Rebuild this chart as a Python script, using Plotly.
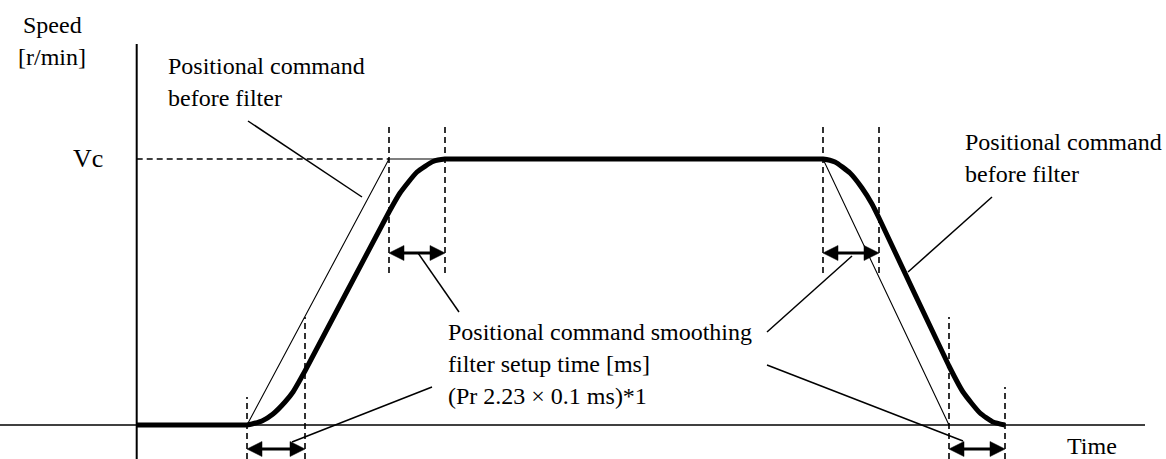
import plotly.graph_objects as go

# ---- Diagram data (time units along x, speed units above the zero line) ----
VC = 266                       # commanded speed level Vc
T_AXIS = 136.7                 # time origin (vertical axis position)

# Positional command before filter (trapezoid)
cmd_t = [247, 389, 823, 949]
cmd_v = [0, VC, VC, 0]

# Positional command after smoothing filter
filt_t = [137, 200, 237, 247, 262, 273, 285, 293, 300, 305, 389, 400, 417, 433, 445, 457,
          600, 811, 823, 835, 850, 862, 872, 879, 949, 963, 980, 993, 1005]
filt_v = [0, 0, 0, 0, 4, 11, 23, 33, 45, 54, 213, 232, 253, 263.5, 266, 266,
          266, 266, 266, 263, 252, 237, 221, 207, 59, 33, 12, 3, 0]

# Dashed guide lines: (time, speed bottom, speed top)
guide_t = [247, 305, 389, 445, 823, 879, 949, 1005]
guide_lo = [-34, -34, 152, 152, 152, 152, -34, -34]
guide_hi = [28, 108, 299, 299, 299, 299, 108, 38]

# Double arrows showing filter setup time: (speed level, start, end)
arrow_v = [-24, 172, 172, -24]
arrow_t0 = [247, 389, 823, 949]
arrow_t1 = [305, 445, 879, 1005]

# Leader lines: (t0, v0, t1, v1)
leaders = [
    (248, 304, 362, 228),
    (418, 172, 459, 113),
    (432, 38, 292, -17),
    (767, 93, 852, 169),
    (767, 60, 963, -16),
    (992, 228, 908, 153),
]

# Text labels: (text, t, v, size)
labels = [
    ("Speed", 22, 425 - 25.2, 24),
    ("[r/min]", 17, 425 - 57, 24),
    ("Positional command", 167, 425 - 66, 24),
    ("before filter", 167, 425 - 98, 24),
    ("Vc", 72, 425 - 158, 26),
    ("Positional command smoothing", 447, 425 - 332, 24),
    ("filter setup time [ms]", 447, 425 - 363.6, 24),
    ("(Pr 2.23 \u00d7 0.1 ms)*1", 447, 425 - 395.6, 24),
    ("Positional command", 964, 425 - 142, 24),
    ("before filter", 964, 425 - 173.6, 24),
    ("Time", 1066, 425 - 446, 24),
]

X_END = 1145                   # end of time axis line
V_TOP = 381                    # top of speed axis line
V_MIN, V_MAX = -34, 425

BLACK = "#000000"
fig = go.Figure()


def seg(xs, ys, width, dash=None):
    fig.add_trace(go.Scatter(
        x=xs, y=ys, mode="lines", hoverinfo="skip",
        line=dict(color=BLACK, width=width, dash=dash)))


# axes
seg([T_AXIS, T_AXIS], [V_MIN, V_TOP], 2)
seg([0, X_END], [0, 0], 1.6)

# Vc dashed line
seg([T_AXIS, cmd_t[1]], [VC, VC], 1.6, "6px,4px")

# guide lines
for t, lo, hi in zip(guide_t, guide_lo, guide_hi):
    seg([t, t], [lo, hi], 1.6, "6px,4px")

# command line (thin)
seg(cmd_t, cmd_v, 1.1)

# leaders
for t0, v0, t1, v1 in leaders:
    seg([t0, t1], [v0, v1], 1.5)

# filtered output (thick)
fig.add_trace(go.Scatter(
    x=filt_t, y=filt_v, mode="lines", hoverinfo="skip",
    line=dict(color=BLACK, width=5, shape="spline", smoothing=0.5)))

# double arrows
HEAD_L, HEAD_H = 15, 15
for v, a, b in zip(arrow_v, arrow_t0, arrow_t1):
    seg([a + HEAD_L - 2, b - HEAD_L + 2], [v, v], 3)
    for tip, d in ((a, 1), (b, -1)):
        fig.add_trace(go.Scatter(
            x=[tip, tip + d * HEAD_L, tip + d * HEAD_L, tip],
            y=[v, v + HEAD_H / 2, v - HEAD_H / 2, v],
            mode="lines", fill="toself", fillcolor=BLACK,
            line=dict(color=BLACK, width=0.5), hoverinfo="skip"))

for text, t, v, size in labels:
    fig.add_annotation(
        x=t, y=v, xref="x", yref="y", text=text, showarrow=False,
        xanchor="left", yanchor="middle", borderpad=0,
        font=dict(family="Liberation Serif, Times New Roman, serif",
                  size=size, color=BLACK))

fig.update_layout(
    width=1166, height=459,
    margin=dict(l=0, r=0, t=0, b=0),
    paper_bgcolor="white", plot_bgcolor="white",
    showlegend=False,
    xaxis=dict(range=[0, 1166], visible=False, fixedrange=True),
    yaxis=dict(range=[V_MIN, V_MAX], visible=False, fixedrange=True),
)

fig.write_html(
    "out.html",
    config={"displayModeBar": False},
    post_script="document.body.style.margin='0';"
                "document.body.style.overflow='hidden';",
)
